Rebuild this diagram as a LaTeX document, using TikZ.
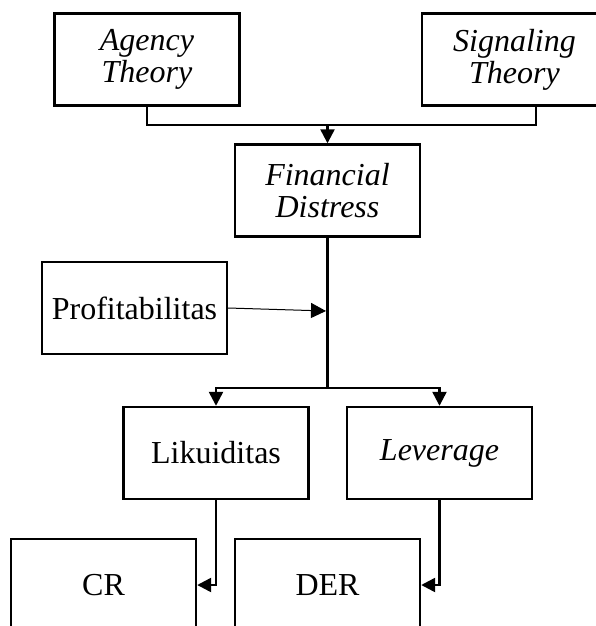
\documentclass[tikz,border=0pt]{standalone}
\usepackage{fontspec}
\setmainfont{Liberation Serif}
\usetikzlibrary{arrows.meta}
\begin{document}
\begin{tikzpicture}[x=1pt,y=-1pt,
  box/.style={draw,line width=2.4pt,minimum width=185pt,minimum height=92pt,
    inner sep=0pt,align=center,font=\fontsize{32}{32}\selectfont},
  conn/.style={line width=2.4pt},
  arr/.style={conn,-{Triangle[length=14pt,width=14pt]}},
  thinarr/.style={line width=1pt,-{Triangle[length=15pt,width=15pt]}}]
\useasboundingbox (0,0) rectangle (595,626);
\node[box] (agency) at (147,59.5) {\itshape Agency\\\itshape Theory};
\node[box] (signaling) at (514.5,59.5) {\itshape Signaling\\\itshape Theory};
\node[box] (fin) at (327.5,190.5) {\itshape Financial\\\itshape Distress};
\node[box] (prof) at (134.5,308) {Profitabilitas};
\node[box] (lik) at (216,453) {Likuiditas};
\node[box] (lev) at (439.5,453) {\itshape Leverage};
\node[box] (cr) at (103.5,585) {CR};
\node[box] (der) at (327.5,585) {DER};
\coordinate (top) at (327.5,125);
\coordinate (split) at (327.5,388);
\coordinate (pm) at (326,311);
\draw[conn] (agency.south) |- (top) -| ([xshift=21.5pt]signaling.south);
\draw[arr] (top) -- (fin.north);
\draw[conn] (fin.south) -- (split);
\draw[arr] (split) -| (lik.north);
\draw[arr] (split) -| (lev.north);
\draw[thinarr] (prof.east) -- (pm);
\draw[arr] (lik.south) |- (cr.east);
\draw[arr] (lev.south) |- (der.east);
\end{tikzpicture}
\end{document}
